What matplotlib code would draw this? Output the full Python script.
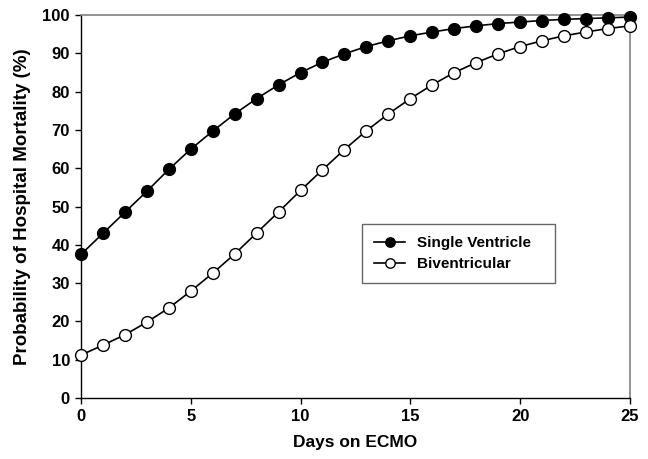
import matplotlib
matplotlib.use("Agg")
import matplotlib.pyplot as plt

plt.rcParams['font.family'] = ['Liberation Sans', 'DejaVu Sans']

days = list(range(0, 26))
single_ventricle = [37.5, 43.0, 48.5, 54.0, 59.7, 65.0, 69.7, 74.2, 78.2, 81.8,
                    85.0, 87.7, 89.9, 91.8, 93.3, 94.6, 95.6, 96.5, 97.2, 97.8,
                    98.2, 98.6, 98.9, 99.1, 99.3, 99.5]
biventricular = [11.2, 13.8, 16.5, 19.8, 23.5, 27.9, 32.6, 37.6, 43.1, 48.6,
                 54.2, 59.6, 64.9, 69.8, 74.2, 78.2, 81.8, 85.0, 87.6, 89.9,
                 91.8, 93.3, 94.6, 95.6, 96.5, 97.2]
x_ticks = [0, 5, 10, 15, 20, 25]
y_ticks = [0, 10, 20, 30, 40, 50, 60, 70, 80, 90, 100]

fig = plt.figure(figsize=(6.48, 4.59), dpi=100)
ax = fig.add_axes([0.125, 0.133, 0.847, 0.834])

ax.plot(days, single_ventricle, color='black', lw=1.2, marker='o', ms=8.5,
        mfc='black', mec='black', label='Single Ventricle', clip_on=False, zorder=3)
ax.plot(days, biventricular, color='black', lw=1.2, marker='o', ms=8.5,
        mfc='white', mec='black', mew=1.0, label='Biventricular', clip_on=False, zorder=3)

ax.set_xlim(0, 25)
ax.set_ylim(0, 100)
ax.set_xticks(x_ticks)
ax.set_yticks(y_ticks)
ax.tick_params(direction='out', length=4, width=1, labelsize=12, pad=4)
for lbl in ax.get_xticklabels() + ax.get_yticklabels():
    lbl.set_fontweight('bold')

for side in ['left', 'bottom']:
    ax.spines[side].set_color('black')
    ax.spines[side].set_linewidth(1.0)
for side in ['top', 'right']:
    ax.spines[side].set_color('#808080')
    ax.spines[side].set_linewidth(1.2)

ax.set_xlabel('Days on ECMO', fontsize=12.5, fontweight='bold', labelpad=8)
ax.set_ylabel('Probability of Hospital Mortality (%)', fontsize=13.5, fontweight='bold', labelpad=8)

leg = ax.legend(loc='upper left', bbox_to_anchor=(0.512, 0.30, 0.352, 0.155), mode='expand',
                frameon=True, fancybox=False,
                edgecolor='#404040', prop={'weight': 'bold', 'size': 11},
                handlelength=2.0, borderpad=0.8, labelspacing=0.45, markerscale=0.8,
                borderaxespad=0)
leg.get_frame().set_linewidth(1.0)

fig.savefig('out.png', dpi=100)
